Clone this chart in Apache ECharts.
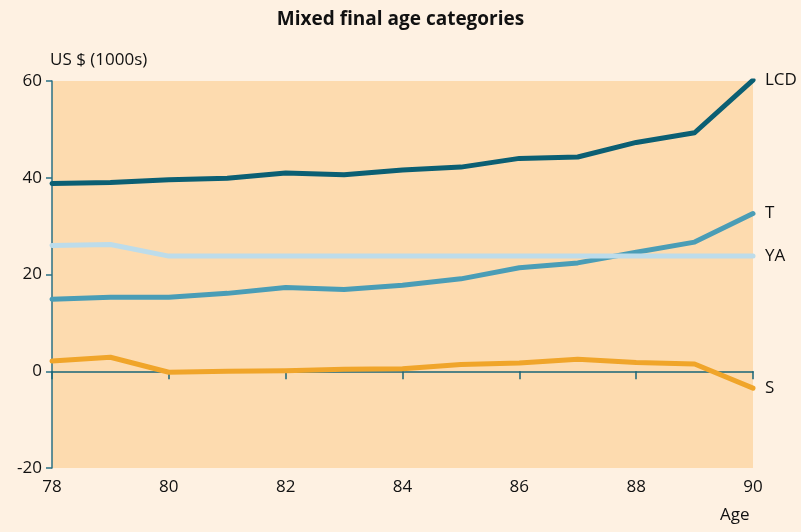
<!DOCTYPE html>
<html style="height: 100%">
<head>
<meta charset="UTF-8">
</head>
<body style="height: 100%; margin: 0">
<div id="container" style="width: 801px; height: 532px"></div>
<script type="text/javascript" src="https://cdn.jsdelivr.net/npm/echarts@6/dist/echarts.min.js"></script>
<script type="text/javascript">
// ages on the x axis
var ages = [78, 79, 80, 81, 82, 83, 84, 85, 86, 87, 88, 89, 90];
// values in US $ (1000s)
var lcd = [38.8, 39.0, 39.6, 39.9, 41.0, 40.6, 41.6, 42.2, 44.0, 44.3, 47.3, 49.3, 60.2];
var t = [14.9, 15.3, 15.3, 16.1, 17.3, 16.9, 17.8, 19.1, 21.4, 22.4, 24.6, 26.7, 32.6];
var ya = [26.0, 26.2, 23.8, 23.8, 23.8, 23.8, 23.8, 23.8, 23.8, 23.8, 23.8, 23.8, 23.8];
var s = [2.1, 2.9, -0.2, 0.0, 0.1, 0.4, 0.5, 1.4, 1.7, 2.5, 1.8, 1.5, -3.5];

var colors = ['#0b5f73', '#4a9db6', '#bddcea', '#f0a52a'];
var font = '"Open Sans", "Noto Sans", sans-serif';

function pairs(vals) {
    return ages.map(function (a, i) { return [a, vals[i]]; });
}

var myChart = echarts.init(document.getElementById('container'));
var option = {
    backgroundColor: '#fef1e2',
    textStyle: { fontFamily: font },
    title: {
        text: 'Mixed final age categories',
        left: 'center',
        top: 5,
        textStyle: { fontFamily: font, fontSize: 19, fontWeight: 'bold', color: '#111' }
    },
    grid: {
        left: 52, right: 48, top: 81, bottom: 64,
        show: true, backgroundColor: '#fddbaf', borderWidth: 0
    },
    xAxis: [
        {
            type: 'value', min: 78, max: 90, interval: 2,
            axisLine: { onZero: true, lineStyle: { color: '#1a6578', width: 1.5 } },
            axisTick: { length: 8, lineStyle: { color: '#1a6578', width: 1.5 } },
            axisLabel: { show: false },
            splitLine: { show: false }
        },
        {
            type: 'value', min: 78, max: 90, interval: 2, position: 'bottom',
            axisLine: { show: false, onZero: false },
            axisTick: { show: false },
            axisLabel: { color: '#111', fontSize: 17, margin: 11 },
            splitLine: { show: false }
        }
    ],
    yAxis: {
        type: 'value', min: -20, max: 60, interval: 20,
        name: 'US $ (1000s)',
        nameLocation: 'end',
        nameGap: 12,
        nameTextStyle: { align: 'left', color: '#111', fontSize: 17, padding: [0, 0, 0, -2] },
        axisLine: { show: true, onZero: false, lineStyle: { color: '#2a7085', width: 1.5 } },
        axisTick: { show: true, length: 6, lineStyle: { color: '#2a7085', width: 1.5 } },
        axisLabel: { color: '#111', fontSize: 17, margin: 10 },
        splitLine: { show: false }
    },
    graphic: [
        {
            type: 'text', left: 720, top: 507,
            style: { text: 'Age', fontSize: 17, fontFamily: font, fill: '#111' }
        }
    ],
    series: [
        { name: 'LCD', data: pairs(lcd), color: colors[0] },
        { name: 'T', data: pairs(t), color: colors[1] },
        { name: 'YA', data: pairs(ya), color: colors[2] },
        { name: 'S', data: pairs(s), color: colors[3] }
    ].map(function (sr) {
        return {
            name: sr.name,
            type: 'line',
            data: sr.data,
            xAxisIndex: 0,
            showSymbol: false,
            silent: true,
            lineStyle: { width: 5, color: sr.color, cap: 'round', join: 'round' },
            itemStyle: { color: sr.color },
            endLabel: {
                show: true, formatter: '{a}', distance: 12,
                color: '#111', fontSize: 17, fontFamily: font
            }
        };
    })
};
option && myChart.setOption(option);
</script>
</body>
</html>
